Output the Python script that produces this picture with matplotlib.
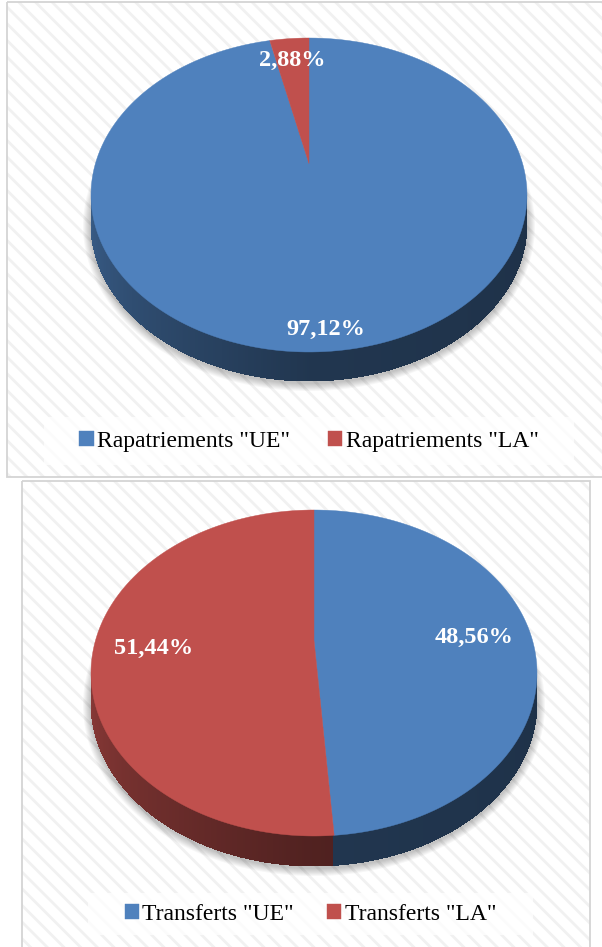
import numpy as np
import matplotlib.pyplot as plt
from matplotlib.patches import Polygon, Rectangle, Ellipse
from matplotlib.collections import PolyCollection
import matplotlib.colors as mcolors

# -------------------------------------------------
# DATA
# -------------------------------------------------
top_labels = ['Rapatriements "UE"', 'Rapatriements "LA"']
top_values = [97.12, 2.88]

bottom_labels = ['Transferts "UE"', 'Transferts "LA"']
bottom_values = [48.56, 51.44]

colors = ['#4F81BD', '#C0504D']

plt.rcParams['hatch.linewidth'] = 2.0
SERIF = 'Liberation Serif'


def ell_pt(cx, cy, rx, ry, phi):
    r = np.radians(phi)
    return cx + rx * np.cos(r), cy - ry * np.sin(r)


def shade(c, f):
    rgb = np.array(mcolors.to_rgb(c))
    return tuple(rgb * f)


def side_factor(phi):
    return np.interp(phi, [180, 270, 360], [0.72, 0.42, 0.38])


# -------------------------------------------------
# FUNCTION: draw one 3D-looking pie (Excel style)
# -------------------------------------------------
def pie3d(ax, values, labels, cx, cy, rx, ry, depth, lab_r, lab_dy):
    total = float(sum(values))
    # slices start at 12 o'clock and go clockwise
    ranges = []
    start = 90.0
    for v in values:
        span = 360.0 * v / total
        ranges.append((start - span, start))
        start -= span

    def slice_of(phi):
        idx = 0
        for i, (a, b) in enumerate(ranges):
            if (phi - a) % 360 <= (b - a):
                idx = i
        return idx

    # soft shadow
    for k in range(1, 9):
        ax.add_patch(Ellipse((cx, cy + depth + 2), 2 * (rx + k), 2 * (ry + k),
                             facecolor='black', edgecolor='none', alpha=0.03, zorder=2))

    # side wall: solid base per slice, then gradient strips on top
    step = 0.5
    phis = np.arange(180, 360 + step, step)
    owner = [slice_of(p + step / 2) for p in phis]
    # base solid bands
    seg_start = 0
    for j in range(1, len(phis) + 1):
        if j == len(phis) or owner[j] != owner[seg_start]:
            ps = phis[seg_start:min(j + 1, len(phis))]
            top = [ell_pt(cx, cy, rx, ry, p) for p in ps]
            bot = [(x, y + depth) for x, y in top[::-1]]
            col = shade(colors[owner[seg_start]], side_factor(ps.mean()))
            ax.add_patch(Polygon(top + bot, closed=True, facecolor=col,
                                 edgecolor='none', zorder=3))
            seg_start = j
    quads, qcols = [], []
    for p, o in zip(phis[:-1], owner[:-1]):
        x0, y0 = ell_pt(cx, cy, rx, ry, p)
        x1, y1 = ell_pt(cx, cy, rx, ry, p + step)
        quads.append([(x0, y0), (x1, y1), (x1, y1 + depth), (x0, y0 + depth)])
        qcols.append(shade(colors[o], side_factor(p)))
    ax.add_collection(PolyCollection(quads, facecolors=qcols, edgecolors='none',
                                     linewidths=0, antialiased=False, zorder=3.1))

    # top face
    apex = (cx, cy - 0.2 * ry)
    handles = []
    for i, (a, b) in enumerate(ranges):
        arc = np.linspace(a, b, 200)
        pts = [apex] + [ell_pt(cx, cy, rx, ry, p) for p in arc]
        poly = Polygon(pts, closed=True, facecolor=colors[i], edgecolor=colors[i],
                       linewidth=0.3, zorder=4, label=labels[i])
        ax.add_patch(poly)
        handles.append(poly)

        m = (a + b) / 2
        lx, ly = ell_pt(cx, cy, rx * lab_r, ry * lab_r, m)
        txt = f"{values[i]:.2f}".replace('.', ',') + '%'
        ax.text(lx, ly + lab_dy, txt, color='white', fontsize=17.5, fontweight='bold',
                family=SERIF, ha='center', va='center', zorder=6)
    return handles


def panel(ax, x0, y0, x1, y1):
    ax.add_patch(Rectangle((x0, y0), x1 - x0, y1 - y0, facecolor='white',
                           edgecolor='#f1f1f1', hatch='\\\\', linewidth=0, zorder=0))
    ax.add_patch(Rectangle((x0, y0), x1 - x0, y1 - y0, facecolor='none',
                           edgecolor='#d4d4d4', linewidth=1.3, zorder=1))


def legend_box(ax, handles, x0, y0, x1, y1, colsp):
    ax.add_patch(Rectangle((x0, y0), x1 - x0, y1 - y0, facecolor='white',
                           edgecolor='none', alpha=0.75, zorder=5))
    ax.legend(handles=handles, loc='center', ncol=2, frameon=False,
              bbox_to_anchor=((x0 + x1) / 2, (y0 + y1) / 2), bbox_transform=ax.transData,
              prop={'family': SERIF, 'size': 17}, handlelength=0.6, handleheight=0.6,
              handletextpad=0.15, columnspacing=colsp, borderpad=0)


fig = plt.figure(figsize=(6.02, 9.47), dpi=100)
ax = fig.add_axes([0, 0, 1, 1])
ax.set_xlim(0, 602)
ax.set_ylim(947, 0)
ax.axis('off')

# top chart
panel(ax, 7, 2, 610, 477)
h_top = pie3d(ax, top_values, top_labels, 309, 195, 218, 157, 29, 0.86, 0)
legend_box(ax, h_top, 44, 417, 574, 465, 1.6)
ax.add_artist(ax.get_legend())

# bottom chart
panel(ax, 22, 481, 590, 955)
h_bot = pie3d(ax, bottom_values, bottom_labels, 314, 673, 223, 163, 30, 0.72, -30)
legend_box(ax, h_bot, 88, 893, 533, 935, 1.4)

fig.savefig('out.png', dpi=100)
